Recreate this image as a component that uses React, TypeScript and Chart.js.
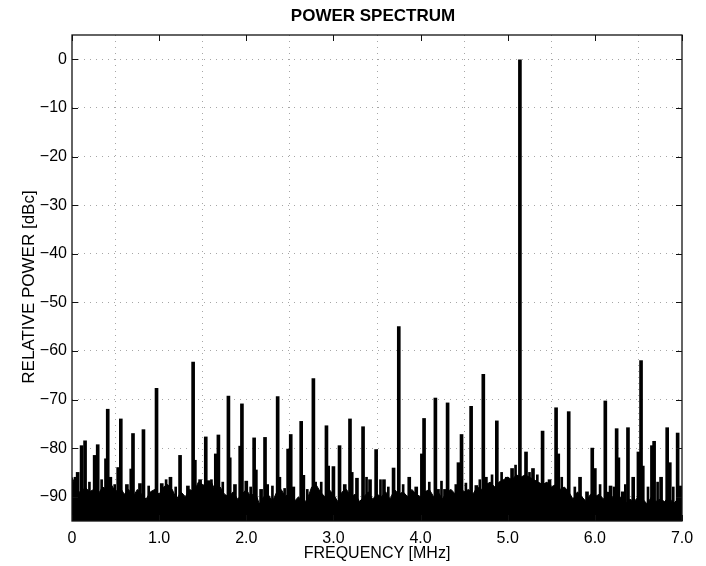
import React, { useEffect, useRef } from 'react';
import { Chart, registerables } from 'chart.js';

Chart.register(...registerables);

const FONT = '"Liberation Sans", Arial, Helvetica, sans-serif';

const chartTitle = 'POWER SPECTRUM';
const xAxisTitle = 'FREQUENCY [MHz]';
const yAxisTitle = 'RELATIVE POWER [dBc]';

const xTickValues = [0, 1, 2, 3, 4, 5, 6, 7];
const xTickLabels = ['0', '1.0', '2.0', '3.0', '4.0', '5.0', '6.0', '7.0'];
const yTickValues = [0, -10, -20, -30, -40, -50, -60, -70, -80, -90];
const yTickLabels = ['0', '\u221210', '\u221220', '\u221230', '\u221240', '\u221250', '\u221260', '\u221270', '\u221280', '\u221290'];

const xMin = 0;
const xMax = 7;
const yMin = -95;
const yMax = 5;

// Noise floor, read every 0.05 MHz from 0 to 7 MHz (dBc)
const floorStartMHz = 0;
const floorStepMHz = 0.05;
const floorLevels = [
  -86, -88, -89.5, -88, -89, -88.5, -89.5, -88, -88.5, -87.5,
  -89, -88, -89.5, -88.5, -90, -88.5, -89.5, -90.5, -89, -88.5,
  -89.5, -88, -87.5, -88.5, -90.5, -89, -90, -88.5, -89, -87,
  -87.5, -88, -87, -89, -88, -89.5, -90, -89, -90.5, -89.5,
  -88.5, -90, -89, -91.5, -90, -89.5, -91, -89, -88.5, -90,
  -89, -91, -90, -91.5, -90.5, -88, -87.5, -89, -90, -88.5,
  -89.5, -91, -89, -88.5, -90, -89.5, -91, -90, -89, -90.5,
  -89.5, -90, -89, -90.5, -88.5, -89.5, -89, -90, -88.5, -89.5,
  -90, -89, -88.5, -90, -89, -90.5, -89, -88.5, -89.5, -88,
  -89, -88.5, -89.5, -88, -88.5, -87.5, -87, -88, -87, -86.5,
  -86, -86.5, -85.5, -86, -85.5, -86, -86.5, -87, -87.5, -87,
  -88, -87.5, -88.5, -88, -89, -90.5, -89, -90, -91, -89.5,
  -90, -89.5, -90.5, -89, -90, -91, -90, -91.5, -90.5, -91,
  -90, -90.5, -91.5, -90, -91, -90.5, -91, -90, -91.5, -90.5,
  -91,
];

// Discrete spurs (MHz, dBc)
const spurFreqs = [
  0.04, 0.065, 0.11, 0.15, 0.26, 0.295, 0.39, 0.41, 0.44, 0.53,
  0.56, 0.63, 0.68, 0.70, 0.78, 0.82, 0.97, 1.03, 1.13, 1.24,
  1.33, 1.39, 1.41, 1.47, 1.535, 1.57, 1.65, 1.68, 1.795, 1.81,
  1.87, 1.93, 1.95, 2.00, 2.09, 2.11, 2.17, 2.215, 2.24, 2.36,
  2.38, 2.48, 2.51, 2.54, 2.63, 2.655, 2.77, 2.79, 2.92, 2.94,
  3.00, 3.07, 3.13, 3.19, 3.21, 3.27, 3.34, 3.42, 3.49, 3.58,
  3.69, 3.75, 3.87, 3.95, 4.015, 4.04, 4.17, 4.20, 4.28, 4.31,
  4.41, 4.435, 4.47, 4.58, 4.64, 4.72, 4.75, 4.875, 4.99, 5.05,
  5.14, 5.21, 5.29, 5.40, 5.48, 5.555, 5.58, 5.70, 5.83, 5.91,
  5.97, 6.00, 6.12, 6.18, 6.25, 6.27, 6.32, 6.38, 6.44, 6.50,
  6.53, 6.55, 6.655, 6.68, 6.76, 6.83, 6.86, 6.95, 6.98,
];
const spurLevels = [
  -86, -85, -79.5, -78.5, -81.5, -79.3, -82.2, -72, -86, -84,
  -74, -87.5, -84.3, -77, -87.3, -76.2, -67.7, -87.3, -86, -81.5,
  -87.8, -62.3, -82.5, -86.5, -77.7, -86.7, -81.2, -77.3, -69.3, -82,
  -87.5, -79.6, -70.9, -86.8, -77.9, -84.5, -88.5, -77.8, -87.5, -69.4,
  -86, -80.2, -77.2, -88, -74.5, -85.6, -65.7, -87, -75.4, -83.7,
  -83.8, -79.5, -87.5, -74, -85, -86.2, -75.6, -86.5, -80.3, -86.5,
  -84.1, -55, -86, -88, -81.2, -73.9, -69.7, -88.5, -88.5, -70.7,
  -87.5, -83, -77.2, -71.4, -87.7, -64.8, -86, -74.4, -86, -84.2,
  0, -80.8, -84.2, -76.5, -86.5, -71.7, -81.2, -72.5, -86, -89,
  -80, -84.2, -70.3, -87.8, -76, -82, -89, -75.8, -86, -80.8,
  -62, -83.7, -79.5, -78.6, -86, -75.8, -83, -76.9, -87.8,
];

// Small spikes riding on the noise floor (MHz, dBc)
const minorSpurFreqs = [
  0.20, 0.34, 0.49, 0.88, 1.08, 1.19, 1.60, 1.73, 2.05, 2.30,
  2.44, 2.70, 2.86, 3.38, 3.54, 3.63, 3.80, 4.10, 4.24, 4.52,
  4.68, 4.82, 4.93, 5.09, 5.25, 5.34, 5.62, 5.77, 6.06, 6.22,
  6.35, 6.61, 6.72, 6.90,
];
const minorSpurLevels = [
  -87, -86.5, -87.5, -87.8, -86.5, -88, -86.5, -87, -88, -87.8,
  -88.3, -88.5, -87, -86, -86.5, -88, -87.5, -87, -86.8, -87.2,
  -86.5, -85.5, -85, -83.5, -85, -85.5, -86, -88, -87.5, -88,
  -87.5, -88, -87, -88,
];

const framePlugin = {
  id: 'matlabFrame',
  afterDatasetsDraw(chart: any) {
    const { ctx, chartArea: a, scales } = chart;
    ctx.save();
    // inner ticks
    ctx.strokeStyle = '#111';
    ctx.lineWidth = 1;
    const L = 6;
    ctx.beginPath();
    for (const v of xTickValues) {
      const px = Math.round(scales.x.getPixelForValue(v)) + 0.5;
      ctx.moveTo(px, a.bottom);
      ctx.lineTo(px, a.bottom - L);
      ctx.moveTo(px, a.top);
      ctx.lineTo(px, a.top + L);
    }
    for (const v of yTickValues) {
      const py = Math.round(scales.y.getPixelForValue(v)) + 0.5;
      ctx.moveTo(a.left, py);
      ctx.lineTo(a.left + L, py);
      ctx.moveTo(a.right, py);
      ctx.lineTo(a.right - L, py);
    }
    ctx.stroke();
    // frame
    ctx.lineWidth = 1.3;
    ctx.strokeRect(a.left, a.top, a.right - a.left, a.bottom - a.top);
    // titles
    ctx.fillStyle = '#000';
    ctx.textAlign = 'center';
    ctx.textBaseline = 'middle';
    ctx.font = `bold 17px ${FONT}`;
    ctx.fillText(chartTitle, (a.left + a.right) / 2 - 4, 16);
    ctx.translate(29, (a.top + a.bottom) / 2 + 9);
    ctx.rotate(-Math.PI / 2);
    ctx.font = `17px ${FONT}`;
    ctx.fillText(yAxisTitle, 0, 0);
    ctx.restore();
  },
};

export default function App() {
  const canvasRef = useRef<HTMLCanvasElement | null>(null);

  useEffect(() => {
    if (!canvasRef.current) return;
    const floorData = floorLevels.map((v, i) => ({ x: floorStartMHz + i * floorStepMHz, y: v }));
    const spurData = spurFreqs.map((f, i) => ({ x: f, y: [yMin, spurLevels[i]] }));
    const minorData = minorSpurFreqs.map((f, i) => ({ x: f, y: [yMin, minorSpurLevels[i]] }));

    const chart = new Chart(canvasRef.current, {
      type: 'line',
      data: {
        datasets: [
          {
            type: 'line',
            label: 'Noise floor',
            data: floorData as any,
            borderColor: '#000',
            backgroundColor: '#000',
            borderWidth: 1,
            pointRadius: 0,
            tension: 0,
            fill: 'start',
            order: 3,
          },
          {
            type: 'bar',
            label: 'Floor spikes',
            data: minorData as any,
            backgroundColor: '#000',
            borderWidth: 0,
            barThickness: 2,
            grouped: false,
            order: 2,
          } as any,
          {
            type: 'bar',
            label: 'Spurs',
            data: spurData as any,
            backgroundColor: '#000',
            borderWidth: 0,
            barThickness: 3,
            grouped: false,
            order: 1,
          } as any,
        ],
      },
      options: {
        animation: false,
        responsive: true,
        maintainAspectRatio: false,
        layout: { padding: { left: 0, right: 24, top: 35, bottom: 0 } },
        plugins: {
          legend: { display: false },
          tooltip: { enabled: false },
          title: { display: false },
        },
        scales: {
          x: {
            type: 'linear',
            min: xMin,
            max: xMax,
            offset: false,
            afterFit: (s: any) => { s.height = 45; },
            afterBuildTicks: (s: any) => { s.ticks = xTickValues.map((v) => ({ value: v })); },
            ticks: {
              autoSkip: false,
              maxRotation: 0,
              padding: 8,
              color: '#000',
              font: { family: FONT, size: 16 },
              callback: (value: any) => {
                const i = xTickValues.indexOf(Number(value));
                return i >= 0 ? xTickLabels[i] : '';
              },
            },
            grid: { color: 'rgba(0,0,0,0.35)', lineWidth: 1, drawTicks: false },
            border: { display: false, dash: [1, 5] },
            title: {
              display: true,
              text: xAxisTitle,
              color: '#000',
              font: { family: FONT, size: 16 },
              padding: { top: 0, bottom: 3 },
            },
          },
          y: {
            type: 'linear',
            min: yMin,
            max: yMax,
            afterFit: (s: any) => { s.width = 72; },
            afterBuildTicks: (s: any) => { s.ticks = yTickValues.map((v) => ({ value: v })); },
            ticks: {
              autoSkip: false,
              padding: 5,
              color: '#000',
              font: { family: FONT, size: 16 },
              callback: (value: any) => {
                const i = yTickValues.indexOf(Number(value));
                return i >= 0 ? yTickLabels[i] : '';
              },
            },
            grid: { color: 'rgba(0,0,0,0.35)', lineWidth: 1, drawTicks: false },
            border: { display: false, dash: [1, 5] },
          },
        },
      },
      plugins: [framePlugin],
    });
    return () => chart.destroy();
  }, []);

  return (
    <div style={{ position: 'fixed', left: 0, top: 0, width: 706, height: 566, background: '#fff' }}>
      <canvas ref={canvasRef} />
    </div>
  );
}
